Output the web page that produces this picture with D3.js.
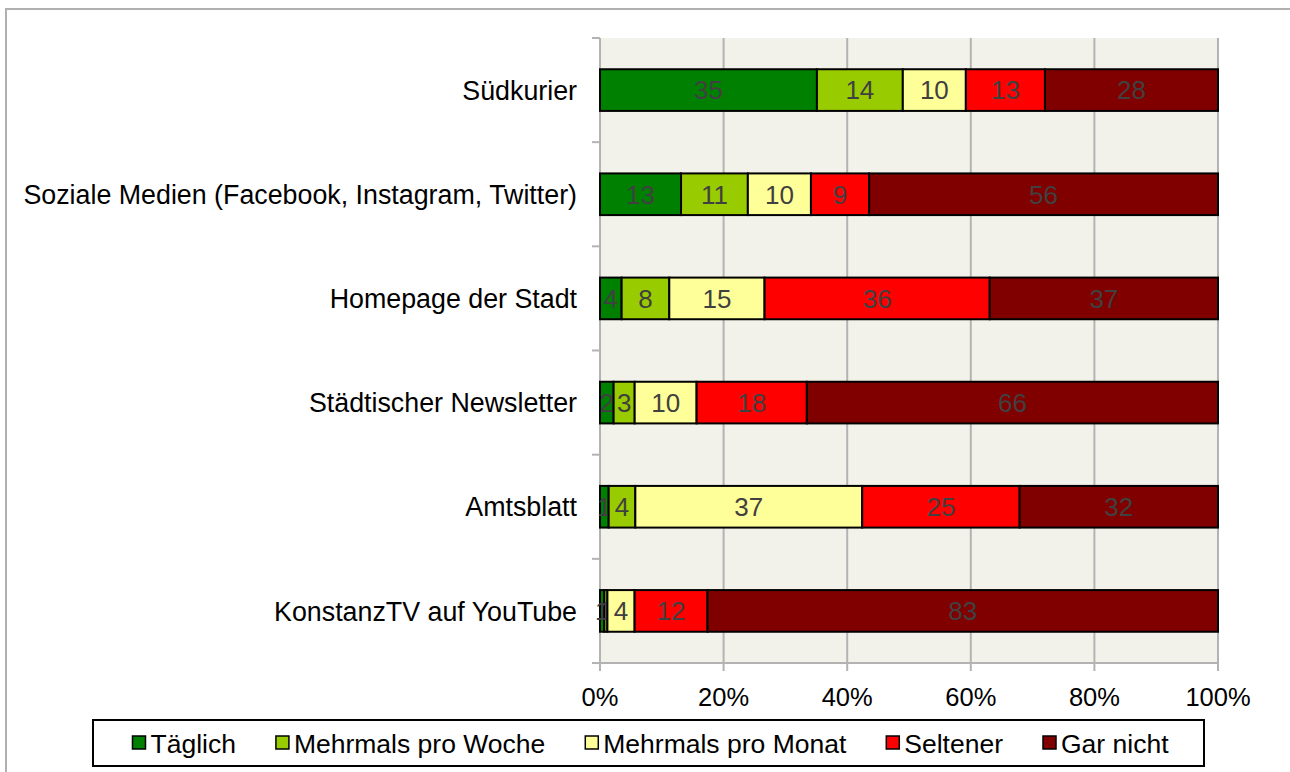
<!DOCTYPE html>
<html>
<head>
<meta charset="utf-8">
<script src="https://cdn.jsdelivr.net/npm/d3@7"></script>
<style>
  body { margin: 0; background: #fff; }
  svg { display: block; font-family: "Liberation Sans", Arial, sans-serif; }
</style>
</head>
<body>
<svg id="chart"></svg>
<script>
(function() {

// categories, top to bottom
const categories = [
  "Südkurier",
  "Soziale Medien (Facebook, Instagram, Twitter)",
  "Homepage der Stadt",
  "Städtischer Newsletter",
  "Amtsblatt",
  "KonstanzTV auf YouTube"
];

// series values (percent), same order as categories
const taeglich      = [35.1, 13.1,  3.5,  2.2,  1.4,  0.7];
const mehrmalsWoche = [13.9, 10.8,  7.7,  3.4,  4.3,  0.5];
const mehrmalsMonat = [10.2, 10.2, 15.4, 10.0, 36.6,  4.4];
const seltener      = [12.8,  9.4, 36.4, 17.8, 25.4, 11.8];
const garNicht      = [28.0, 56.4, 36.9, 66.4, 32.0, 82.6];

const seriesNames = ["Täglich", "Mehrmals pro Woche", "Mehrmals pro Monat", "Seltener", "Gar nicht"];
const seriesColors = ["#008000", "#99cc00", "#ffff99", "#ff0000", "#800000"];
const tickValues = [0, 0.2, 0.4, 0.6, 0.8, 1];

const W = 1290, H = 772;
const plot = { left: 600, right: 1218, top: 38, bottom: 663 };

const svg = d3.select("#chart")
    .attr("width", W)
    .attr("height", H);

// outer frame (only top / left edges visible)
svg.append("rect")
    .attr("x", 6).attr("y", 9)
    .attr("width", W + 20).attr("height", H + 20)
    .attr("fill", "#fff")
    .attr("stroke", "#b0b0b0")
    .attr("stroke-width", 2);

// build rows for the stack
const keys = ["k0", "k1", "k2", "k3", "k4"];
const raw = [taeglich, mehrmalsWoche, mehrmalsMonat, seltener, garNicht];
const rows = categories.map((c, i) => {
    const r = { cat: c };
    keys.forEach((k, j) => r[k] = raw[j][i]);
    return r;
});
const series = d3.stack().keys(keys).offset(d3.stackOffsetExpand)(rows);

const xScale = d3.scaleLinear()
    .domain([0, 1])
    .range([plot.left, plot.right]);

const yScale = d3.scaleBand()
    .domain(categories)
    .range([plot.top, plot.bottom])
    .paddingInner(0.6)
    .paddingOuter(0.3);

const color = d3.scaleOrdinal().domain(keys).range(seriesColors);

// plot background
svg.append("rect")
    .attr("x", plot.left).attr("y", plot.top)
    .attr("width", plot.right - plot.left)
    .attr("height", plot.bottom - plot.top)
    .attr("fill", "#f2f2eb");

// vertical gridlines
svg.append("g")
    .selectAll("line")
    .data(tickValues)
    .enter().append("line")
    .attr("x1", d => xScale(d)).attr("x2", d => xScale(d))
    .attr("y1", plot.top).attr("y2", plot.bottom + 8)
    .attr("stroke", "#b3b3b3")
    .attr("stroke-width", 2);

// bottom axis line
svg.append("line")
    .attr("x1", plot.left - 8).attr("x2", plot.right)
    .attr("y1", plot.bottom).attr("y2", plot.bottom)
    .attr("stroke", "#b3b3b3")
    .attr("stroke-width", 2);

// left axis line + category ticks at band boundaries
svg.append("line")
    .attr("x1", plot.left).attr("x2", plot.left)
    .attr("y1", plot.top).attr("y2", plot.bottom)
    .attr("stroke", "#b3b3b3")
    .attr("stroke-width", 2);

const bounds = d3.range(categories.length + 1).map(i => plot.top + i * (plot.bottom - plot.top) / categories.length);
svg.append("g")
    .selectAll("line")
    .data(bounds)
    .enter().append("line")
    .attr("x1", plot.left - 8).attr("x2", plot.left)
    .attr("y1", d => d).attr("y2", d => d)
    .attr("stroke", "#b3b3b3")
    .attr("stroke-width", 2);

// bars
const layer = svg.selectAll(".layer")
    .data(series)
    .enter().append("g")
    .attr("class", "layer")
    .attr("fill", d => color(d.key));

layer.selectAll("rect")
    .data(d => d)
    .enter().append("rect")
    .attr("x", d => xScale(d[0]))
    .attr("width", d => xScale(d[1]) - xScale(d[0]))
    .attr("y", d => yScale(d.data.cat))
    .attr("height", yScale.bandwidth())
    .attr("stroke", "#000")
    .attr("stroke-width", 2);

// value labels (the two tiny KonstanzTV segments overlap, as in the original)
layer.selectAll("text")
    .data(d => d.map(v => ({ v: v, key: d.key })))
    .enter().append("text")
    .attr("x", d => (xScale(d.v[0]) + xScale(d.v[1])) / 2)
    .attr("y", d => yScale(d.v.data.cat) + yScale.bandwidth() / 2)
    .attr("dy", "0.36em")
    .attr("text-anchor", "middle")
    .attr("fill", "#404040")
    .style("font-size", "26px")
    .text(d => Math.round(d.v.data[d.key]));

// category labels
svg.append("g")
    .selectAll("text")
    .data(categories)
    .enter().append("text")
    .attr("x", plot.left - 23)
    .attr("y", d => yScale(d) + yScale.bandwidth() / 2)
    .attr("dy", "0.36em")
    .attr("text-anchor", "end")
    .style("font-size", "26.8px")
    .text(d => d);

// x tick labels
svg.append("g")
    .selectAll("text")
    .data(tickValues)
    .enter().append("text")
    .attr("x", d => xScale(d))
    .attr("y", 697)
    .attr("dy", "0.36em")
    .attr("text-anchor", "middle")
    .style("font-size", "25.5px")
    .text(d => d3.format(".0%")(d));

// legend
const legendBox = { x: 93, y: 720, w: 1111, h: 46 };
svg.append("rect")
    .attr("x", legendBox.x).attr("y", legendBox.y)
    .attr("width", legendBox.w).attr("height", legendBox.h)
    .attr("fill", "#fff")
    .attr("stroke", "#000")
    .attr("stroke-width", 2);

const legend = svg.append("g");
const cy = legendBox.y + legendBox.h / 2;
let lx = 0;
seriesNames.forEach((name, i) => {
    const item = legend.append("g").attr("transform", `translate(${lx},0)`);
    item.append("rect")
        .attr("x", 0).attr("y", cy - 7)
        .attr("width", 13).attr("height", 13)
        .attr("fill", seriesColors[i])
        .attr("stroke", "#000")
        .attr("stroke-width", 1.5);
    const t = item.append("text")
        .attr("x", 18).attr("y", cy)
        .attr("dy", "0.36em")
        .style("font-size", "26.5px")
        .text(name);
    lx += 18 + t.node().getComputedTextLength() + 40;
});
const legendW = lx - 40;
legend.attr("transform", `translate(${legendBox.x + (legendBox.w - legendW) / 2 + 2},0)`);

})();
</script>
</body>
</html>
